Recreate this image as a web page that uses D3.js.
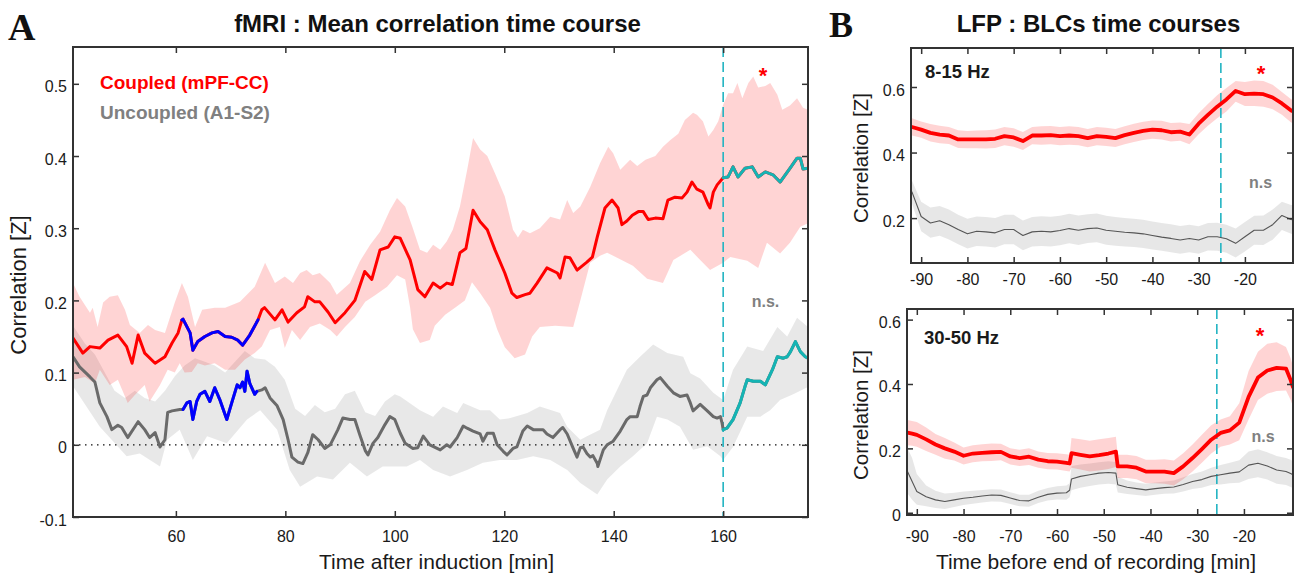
<!DOCTYPE html>
<html>
<head>
<meta charset="utf-8">
<style>
  body { margin: 0; background: #fff; }
  svg { display: block; }
  text { font-family: "Liberation Sans", Arial, Helvetica, sans-serif; }
  text.serif { font-family: "Liberation Serif", "Times New Roman", serif; }
</style>
</head>
<body>
<svg id="chart" width="1295" height="575"></svg>
<script src="https://cdn.jsdelivr.net/npm/d3@7"></script>
<script>
// ---------- Panel A: fMRI (time after induction, min) ----------
const coupledMean = [[41.2,.148],[43.0,.127],[44.3,.136],[46.1,.134],[47.6,.145],[49.4,.152],[50.1,.145],[51.0,.136],[52.0,.113],[53.1,.152],[54.3,.127],[56.2,.113],[58.0,.122],[59.3,.141],[60.4,.155],[61.1,.173],[61.3,.174],[62.6,.155],[63.1,.131],[64.0,.143],[65.3,.15],[66.6,.155],[67.7,.157],[69.0,.15],[70.2,.149],[71.3,.145],[72.2,.138],[73.5,.152],[75.0,.173],[75.7,.187],[76.2,.19],[78.1,.173],[79.4,.187],[80.5,.17],[82.1,.183],[83.5,.191],[84.1,.205],[85.4,.198],[86.3,.198],[87.8,.184],[89.1,.169],[90.9,.183],[92.7,.2],[94.5,.24],[95.8,.229],[97.3,.27],[98.8,.274],[100.0,.288],[101.0,.286],[102.8,.256],[104.2,.215],[105.5,.205],[107.0,.224],[108.3,.217],[109.5,.224],[110.5,.222],[111.9,.266],[113.0,.272],[114.3,.325],[115.6,.309],[116.9,.298],[118.3,.27],[120.1,.238],[121.4,.21],[122.3,.204],[123.8,.208],[124.7,.21],[126.0,.224],[127.8,.245],[129.7,.238],[130.2,.231],[131.1,.26],[132.0,.259],[133.3,.242],[135.1,.253],[136.1,.26],[137.0,.288],[138.4,.328],[139.7,.339],[140.8,.328],[141.5,.305],[142.4,.31],[143.4,.318],[144.5,.323],[145.4,.323],[146.3,.312],[147.6,.314],[149.0,.313],[149.9,.339],[151.2,.343],[152.5,.342],[153.4,.35],[154.3,.364],[155.2,.354],[156.3,.35],[157.3,.332],[157.6,.328],[158.2,.35],[158.9,.36],[160.0,.37],[160.9,.371],[161.8,.385],[162.7,.371],[164.0,.383],[165.3,.385],[166.4,.371],[167.7,.378],[169.1,.374],[170.4,.364],[172.2,.383],[173.5,.397],[174.1,.397],[174.6,.382],[175.5,.383]];
const coupledUpper = [[41.2,.224],[42.4,.205],[44.3,.183],[44.8,.19],[45.7,.163],[46.7,.197],[47.9,.205],[49.4,.207],[50.7,.187],[51.6,.166],[53.4,.155],[54.9,.166],[56.2,.159],[58.0,.155],[59.8,.197],[61.1,.224],[62.2,.205],[63.5,.163],[64.8,.187],[67.1,.19],[69.0,.19],[71.7,.198],[74.4,.219],[76.3,.252],[78.1,.224],[79.9,.233],[81.4,.224],[82.7,.238],[83.9,.242],[85.0,.235],[86.3,.238],[88.2,.224],[89.4,.208],[91.8,.224],[93.6,.254],[95.5,.277],[97.3,.295],[99.1,.325],[100.4,.342],[101.9,.33],[103.3,.3],[104.6,.27],[105.9,.266],[107.0,.277],[108.3,.27],[109.5,.282],[110.6,.298],[111.9,.33],[113.2,.38],[114.3,.425],[115.6,.409],[116.9,.4],[118.3,.376],[120.1,.344],[121.6,.298],[122.5,.287],[123.4,.298],[124.7,.293],[126.5,.3],[128.4,.316],[130.2,.312],[131.5,.339],[132.6,.321],[133.9,.33],[135.7,.357],[137.5,.39],[139.0,.413],[139.9,.404],[141.2,.381],[143.0,.395],[144.3,.386],[145.8,.395],[147.6,.4],[149.0,.413],[150.3,.422],[151.8,.431],[153.0,.45],[154.5,.46],[155.2,.457],[156.3,.448],[157.3,.427],[158.2,.436],[159.1,.448],[160.0,.471],[160.9,.487],[161.8,.487],[162.6,.501],[163.5,.48],[164.6,.501],[165.5,.51],[166.4,.495],[167.7,.497],[168.6,.501],[169.9,.485],[170.8,.464],[172.2,.47],[173.5,.48],[174.6,.467],[175.5,.464]];
const coupledLower = [[41.2,.09],[43.4,.094],[45.2,.085],[46.1,.104],[47.9,.083],[49.4,.09],[51.2,.058],[52.5,.069],[54.3,.083],[55.2,.06],[57.1,.083],[58.5,.104],[59.8,.1],[60.7,.113],[61.6,.1],[62.9,.101],[64.0,.113],[65.3,.11],[67.1,.113],[69.0,.104],[70.8,.104],[72.6,.118],[74.4,.127],[75.7,.136],[77.2,.159],[79.0,.163],[79.9,.134],[81.2,.159],[82.7,.145],[84.5,.163],[86.3,.168],[88.2,.159],[89.4,.15],[90.9,.163],[92.7,.177],[94.6,.198],[96.4,.207],[98.6,.219],[100.4,.235],[101.9,.229],[102.8,.19],[103.3,.16],[104.6,.141],[106.4,.145],[107.3,.165],[109.2,.18],[111.0,.19],[112.8,.2],[114.1,.225],[115.6,.21],[117.4,.19],[118.7,.16],[120.1,.135],[121.9,.12],[123.8,.125],[125.1,.15],[126.5,.163],[129.3,.165],[132.6,.163],[133.9,.2],[135.7,.252],[137.5,.262],[138.8,.266],[139.9,.262],[143.5,.248],[146.1,.23],[149.0,.224],[150.9,.256],[154.0,.27],[155.8,.256],[157.6,.242],[160.0,.252],[161.3,.26],[164.4,.255],[166.4,.245],[168.0,.28],[170.4,.265],[172.2,.28],[174.1,.302],[175.5,.307]];

const uncoupledMean = [[41.2,.122],[42.4,.108],[44.3,.094],[45.2,.087],[46.1,.058],[47.4,.039],[48.3,.021],[49.4,.027],[50.1,.024],[51.2,.01],[53.1,.032],[54.3,.021],[55.2,.01],[56.2,.017],[57.1,-.003],[58.0,.007],[58.5,.045],[59.3,.047],[60.7,.049],[61.3,.049],[62.0,.058],[62.6,.06],[63.1,.035],[63.8,.06],[64.4,.07],[65.3,.074],[66.2,.06],[67.1,.079],[68.0,.063],[69.3,.035],[70.2,.058],[71.2,.083],[71.7,.079],[72.2,.087],[72.6,.074],[73.0,.102],[73.5,.085],[74.4,.07],[74.8,.074],[75.7,.076],[76.3,.079],[77.2,.065],[78.5,.054],[79.6,.035],[80.5,.007],[81.2,-.017],[82.3,-.024],[83.2,-.026],[84.1,-.011],[85.0,.014],[86.0,.007],[87.2,-.005],[88.2,0],[89.6,.021],[90.5,.037],[91.8,.035],[92.7,.035],[93.6,.014],[94.6,-.008],[95.1,-.014],[96.0,.002],[96.9,.01],[98.2,.028],[99.1,.039],[100.0,.035],[101.0,.016],[101.9,.002],[103.3,-.005],[104.2,-.004],[105.2,.012],[106.4,0],[108.3,-.007],[109.5,0],[110.1,-.003],[111.4,.01],[112.5,.026],[113.2,.023],[114.3,.019],[115.6,.015],[116.1,.005],[116.9,.016],[118.0,.016],[118.7,0],[119.8,-.009],[120.5,-.014],[121.6,-.005],[122.3,-.003],[123.4,.019],[124.2,.026],[125.3,.021],[127.1,.021],[127.8,.015],[128.9,.01],[130.2,.021],[130.7,.024],[131.5,.015],[132.6,-.005],[133.3,-.017],[133.9,-.004],[134.4,-.003],[135.1,-.012],[135.7,-.017],[136.2,-.015],[137.0,-.026],[137.1,-.03],[138.1,-.007],[138.8,0],[139.9,.005],[141.2,.019],[142.4,.035],[143.0,.039],[144.3,.039],[144.8,.053],[145.4,.067],[146.1,.069],[146.7,.079],[147.9,.09],[148.5,.093],[149.8,.081],[150.9,.072],[152.1,.067],[153.4,.069],[154.0,.058],[154.5,.047],[155.8,.056],[157.1,.047],[158.2,.039],[158.9,.037],[159.5,.039],[159.8,.03],[160.0,.021],[160.7,.023],[161.8,.035],[163.1,.058],[164.0,.081],[164.4,.09],[165.5,.088],[166.8,.088],[167.7,.083],[169.0,.104],[169.9,.122],[171.0,.12],[171.7,.122],[172.3,.129],[173.2,.143],[174.1,.129],[175.0,.122],[175.5,.12]];
const uncoupledUpper = [[41.2,.165],[43.4,.14],[45.2,.125],[47.0,.1],[48.8,.075],[50.7,.065],[52.5,.075],[54.3,.065],[56.2,.06],[58.0,.075],[59.8,.095],[61.6,.11],[63.5,.12],[65.3,.115],[67.1,.11],[69.0,.1],[70.8,.115],[72.6,.13],[74.4,.12],[76.3,.118],[78.1,.108],[79.9,.09],[81.8,.05],[83.6,.04],[85.4,.055],[87.2,.045],[89.1,.05],[90.9,.07],[92.7,.075],[94.6,.045],[96.4,.04],[98.2,.06],[100.0,.07],[101.0,.067],[104.6,.048],[107.0,.039],[108.8,.053],[111.4,.044],[112.5,.058],[115.6,.048],[117.4,.048],[119.2,.035],[121.1,.037],[124.2,.044],[126.5,.053],[130.2,.044],[131.5,.025],[133.9,.007],[135.1,.012],[137.5,.021],[138.8,.048],[140.6,.076],[142.4,.104],[144.8,.122],[147.2,.139],[149.8,.127],[152.7,.122],[154.0,.099],[155.8,.092],[158.2,.072],[160.0,.062],[161.8,.104],[164.4,.136],[167.3,.13],[169.9,.163],[171.7,.15],[173.5,.176],[175.5,.163]];
const uncoupledLower = [[41.2,.081],[46.1,.025],[51.0,-.016],[53.4,-.012],[57.1,-.03],[58.4,.007],[60.7,.021],[63.1,-.021],[65.7,.012],[69.3,.002],[73.0,.035],[75.4,.048],[78.5,.021],[80.8,-.035],[82.7,-.058],[85.8,-.044],[88.7,-.048],[91.8,-.025],[94.9,-.044],[97.8,-.03],[101.0,-.03],[102.2,-.03],[104.6,-.021],[107.0,-.035],[110.1,-.044],[113.2,-.035],[116.1,-.025],[119.2,-.021],[122.3,-.021],[125.3,-.016],[128.4,-.021],[131.5,-.035],[133.9,-.053],[137.0,-.069],[138.8,-.048],[141.2,-.03],[143.5,-.016],[146.1,.002],[147.9,.039],[149.8,.035],[152.1,.025],[154.5,-.007],[157.1,-.002],[159.5,-.016],[160.0,-.021],[161.8,-.003],[164.4,.039],[166.8,.039],[168.6,.048],[170.4,.062],[172.8,.07],[175.5,.08]];

const xTicksA = [60, 80, 100, 120, 140, 160];
const yTicksA = [-0.1, 0, 0.1, 0.2, 0.3, 0.4, 0.5];
const blueSpanCoupled = [61.1, 75.0];
const blueSpanUncoupled = [61.3, 74.8];
const cyanSpan = [160, 175.5];
const markerA = 160;

// ---------- Panel B: LFP (time before end of recording, min) ----------
const timeB1 = [-92,-90,-88,-86,-84,-82,-80,-78,-76,-74,-72,-70,-68,-66,-64,-62,-60,-58,-56,-54,-52,-50,-48,-46,-44,-42,-40,-38,-36,-34,-32,-30,-28,-26,-24,-22,-20,-18,-16,-14,-12,-10,-9.5];
const alphaCoupled = [.478,.47,.46,.455,.452,.44,.44,.44,.44,.442,.45,.446,.435,.452,.452,.453,.45,.452,.45,.444,.45,.448,.444,.453,.46,.466,.47,.468,.462,.464,.455,.488,.515,.54,.562,.588,.578,.58,.578,.568,.55,.528,.525];
const alphaCoupledUp = [.505,.495,.487,.482,.478,.468,.466,.467,.468,.47,.478,.474,.463,.478,.48,.481,.478,.48,.478,.472,.478,.476,.472,.48,.488,.494,.498,.497,.49,.492,.487,.52,.548,.575,.597,.618,.615,.62,.618,.607,.585,.563,.56];
const alphaCoupledLo = [.452,.445,.434,.428,.426,.414,.413,.413,.412,.414,.422,.418,.408,.425,.424,.425,.422,.424,.422,.416,.422,.42,.417,.425,.432,.438,.442,.44,.434,.436,.425,.456,.482,.505,.525,.555,.542,.542,.54,.532,.515,.492,.49];
const alphaUncoupled = [.28,.205,.185,.192,.18,.165,.152,.16,.158,.155,.165,.165,.147,.158,.16,.158,.162,.168,.163,.168,.17,.163,.16,.157,.155,.152,.147,.142,.138,.133,.138,.133,.143,.143,.137,.123,.143,.163,.163,.18,.208,.196,.194];
const alphaUncoupledUp = [.315,.25,.232,.237,.226,.21,.198,.205,.203,.2,.21,.21,.193,.203,.206,.204,.207,.213,.208,.212,.214,.207,.203,.2,.198,.195,.19,.185,.181,.176,.18,.175,.185,.186,.18,.168,.188,.207,.208,.226,.25,.24,.238];
const alphaUncoupledLo = [.245,.16,.14,.146,.135,.12,.107,.115,.113,.11,.12,.12,.102,.113,.115,.113,.117,.123,.118,.124,.126,.119,.116,.113,.112,.109,.104,.1,.096,.091,.096,.091,.101,.1,.094,.08,.098,.119,.118,.134,.164,.152,.15];

const timeB2 = [-92,-91,-90,-88,-86,-84,-82,-80,-78,-76,-74,-72,-70,-68,-66,-64,-62,-60,-58,-57.3,-56.9,-55,-53,-51,-49,-47.4,-47,-45,-43,-41,-39,-37,-35,-33,-31,-29,-27,-25,-23,-21,-19,-17,-15,-13,-11,-10,-9.5];
const gammaCoupled = [.249,.246,.242,.228,.212,.2,.19,.177,.184,.186,.188,.189,.175,.17,.174,.165,.16,.159,.155,.153,.185,.18,.175,.179,.184,.19,.144,.144,.14,.128,.128,.128,.123,.144,.17,.198,.227,.248,.256,.28,.36,.42,.442,.45,.448,.412,.39];
const gammaCoupledUp = [.288,.285,.282,.265,.245,.232,.218,.203,.21,.213,.215,.214,.2,.196,.2,.19,.186,.185,.182,.18,.232,.228,.224,.228,.232,.236,.18,.18,.176,.165,.165,.166,.162,.185,.212,.242,.272,.29,.3,.34,.44,.5,.525,.53,.515,.48,.455];
const gammaCoupledLo = [.21,.208,.205,.192,.18,.168,.162,.15,.157,.16,.161,.163,.15,.145,.148,.14,.135,.134,.13,.128,.14,.134,.128,.131,.136,.142,.108,.108,.104,.092,.092,.09,.085,.104,.128,.155,.184,.205,.212,.225,.29,.35,.37,.378,.38,.35,.33];
const gammaUncoupled = [.128,.097,.066,.05,.04,.035,.04,.045,.048,.052,.055,.054,.046,.038,.037,.048,.057,.061,.062,.07,.105,.113,.118,.123,.125,.123,.087,.079,.075,.071,.075,.078,.08,.088,.097,.103,.113,.118,.123,.127,.148,.154,.145,.133,.128,.122,.118];
const gammaUncoupledUp = [.2,.17,.12,.085,.068,.06,.062,.066,.068,.071,.073,.072,.064,.056,.056,.068,.077,.082,.085,.092,.145,.15,.153,.157,.16,.158,.112,.1,.094,.09,.094,.097,.1,.11,.12,.128,.14,.148,.155,.163,.19,.197,.188,.176,.17,.165,.16];
const gammaUncoupledLo = [.06,.04,.025,.02,.015,.012,.018,.024,.028,.032,.035,.034,.027,.02,.019,.03,.038,.041,.04,.048,.07,.078,.083,.088,.09,.088,.063,.058,.055,.052,.056,.059,.06,.066,.074,.078,.086,.088,.092,.093,.105,.11,.103,.09,.086,.08,.076];

const xTicksB = [-90, -80, -70, -60, -50, -40, -30, -20];
const yTicksB1 = [0.2, 0.4, 0.6];
const yTicksB2 = [0, 0.2, 0.4, 0.6];
const markerB1 = -25.2;
const markerB2 = -25.8;

// ---------- styles ----------
const RED = "#ff0000", BLUE = "#0000ff", CYAN = "#14b4b4", GRAY = "#6a6a6a";
const DASH = "#22b4c2", AXIS = "#333", TXT = "#1a1a1a";

const svg = d3.select("#chart");
svg.append("rect").attr("width", 1295).attr("height", 575).attr("fill", "#fff");

const fmtY = d => d === 0 ? "0" : d3.format(".1f")(d).replace("\u2212", "-");
const fmtX = d => String(d);

function zip(t, v) { return t.map((d, i) => [d, v[i]]); }

function bandPath(upper, lower, x, y) {
  const pts = upper.map(d => [x(d[0]), y(d[1])])
    .concat(lower.slice().reverse().map(d => [x(d[0]), y(d[1])]));
  return d3.line()(pts) + "Z";
}

function drawLine(g, pts, x, y, color, w) {
  g.append("path")
    .attr("d", d3.line().x(d => x(d[0])).y(d => y(d[1]))(pts))
    .attr("fill", "none").attr("stroke", color).attr("stroke-width", w)
    .attr("stroke-linejoin", "round").attr("stroke-linecap", "round");
}

function segment(pts, span) {
  return pts.filter(d => d[0] >= span[0] - 1e-9 && d[0] <= span[1] + 1e-9);
}

function panel(id, x, y, xTicks, yTicks, xPad) {
  const [x0, x1] = x.range(), [y0, y1] = y.range();
  const g = svg.append("g");
  g.append("clipPath").attr("id", id).append("rect")
    .attr("x", x0).attr("y", y1).attr("width", x1 - x0).attr("height", y0 - y1);
  const plot = g.append("g").attr("clip-path", `url(#${id})`);

  const tidy = s => { s.select(".domain").remove();
    s.selectAll(".tick line").attr("stroke", AXIS).attr("stroke-width", 1.5);
    s.selectAll("text").attr("fill", TXT).attr("font-size", 16); };

  const ax = g.append("g");
  ax.append("g").attr("transform", `translate(0,${y0})`)
    .call(d3.axisBottom(x).tickValues(xTicks).tickSize(-6).tickPadding(xPad).tickFormat(fmtX)).call(tidy);
  ax.append("g").attr("transform", `translate(0,${y1})`)
    .call(d3.axisTop(x).tickValues(xTicks).tickSize(-6).tickFormat("")).call(tidy);
  ax.append("g").attr("transform", `translate(${x0},0)`)
    .call(d3.axisLeft(y).tickValues(yTicks).tickSize(-6).tickPadding(6).tickFormat(fmtY)).call(tidy)
    .selectAll("text").attr("dy", "0.5em");
  ax.append("g").attr("transform", `translate(${x1},0)`)
    .call(d3.axisRight(y).tickValues(yTicks).tickSize(-6).tickFormat("")).call(tidy);
  ax.selectAll("text").attr("font-family", null);
  return { g, plot, ax, box: () => g.append("rect").attr("x", x0).attr("y", y1)
    .attr("width", x1 - x0).attr("height", y0 - y1)
    .attr("fill", "none").attr("stroke", AXIS).attr("stroke-width", 2) };
}

function vDash(plot, x, y, t) {
  plot.append("line").attr("x1", x(t)).attr("x2", x(t))
    .attr("y1", y.range()[1]).attr("y2", y.range()[0])
    .attr("stroke", DASH).attr("stroke-width", 1.6).attr("stroke-dasharray", "10,5");
}

function text(g, s, x, y, o = {}) {
  const t = g.append("text").attr("x", x).attr("y", y).text(s)
    .attr("font-size", o.size || 16).attr("fill", o.fill || TXT)
    .attr("text-anchor", o.anchor || "start");
  if (o.bold) t.attr("font-weight", "bold");
  if (o.serif) t.attr("class", "serif");
  if (o.rotate) t.attr("transform", `rotate(-90,${x},${y})`);
  return t;
}

// ---------- Panel A ----------
const xA = d3.scaleLinear().domain([41.2, 175.5]).range([73, 808]);
const yA = d3.scaleLinear().domain([-0.1, 0.551]).range([517, 47]);
const A = panel("clipA", xA, yA, xTicksA, yTicksA, 13.6);

A.plot.append("path").attr("d", bandPath(uncoupledUpper, uncoupledLower, xA, yA))
  .attr("fill", "#000").attr("fill-opacity", 0.09);
A.plot.append("path").attr("d", bandPath(coupledUpper, coupledLower, xA, yA))
  .attr("fill", RED).attr("fill-opacity", 0.17);
A.plot.append("line").attr("x1", xA.range()[0]).attr("x2", xA.range()[1])
  .attr("y1", yA(0)).attr("y2", yA(0))
  .attr("stroke", "#111").attr("stroke-width", 1.3).attr("stroke-dasharray", "1.5,4.5");
vDash(A.plot, xA, yA, markerA);

drawLine(A.plot, uncoupledMean, xA, yA, GRAY, 3);
drawLine(A.plot, segment(uncoupledMean, blueSpanUncoupled), xA, yA, BLUE, 3);
drawLine(A.plot, segment(uncoupledMean, cyanSpan), xA, yA, CYAN, 3);
drawLine(A.plot, coupledMean, xA, yA, RED, 3);
drawLine(A.plot, segment(coupledMean, blueSpanCoupled), xA, yA, BLUE, 3);
drawLine(A.plot, segment(coupledMean, cyanSpan), xA, yA, CYAN, 3);
A.box();

text(svg, "A", 8, 40, { size: 38, bold: true, serif: true, fill: "#111" });
text(svg, "fMRI : Mean correlation time course", 437.5, 32, { size: 24, bold: true, anchor: "middle", fill: "#111" });
text(svg, "Coupled (mPF-CC)", 100, 89, { size: 19, bold: true, fill: RED });
text(svg, "Uncoupled (A1-S2)", 100, 119, { size: 19, bold: true, fill: "#808080" });
text(svg, "*", 763, 83, { size: 22, bold: true, anchor: "middle", fill: RED });
text(svg, "n.s.", 765.5, 307, { size: 16, bold: true, anchor: "middle", fill: "#808080" });
text(svg, "Correlation [Z]", 26, 285, { size: 22, anchor: "middle", rotate: true });
text(svg, "Time after induction [min]", 436.5, 569, { size: 21, anchor: "middle" });

// ---------- Panel B ----------
const xB1 = d3.scaleLinear().domain([-92.2, -9.6]).range([911, 1293]);
const yB1 = d3.scaleLinear().domain([0.063, 0.719]).range([263, 48]);
const B1 = panel("clipB1", xB1, yB1, xTicksB, yTicksB1, 10.6);

const area = (x, y) => d3.area().x(d => x(d[0])).y0(d => y(d[1])).y1(d => y(d[2]));
const tri = (t, lo, up) => t.map((d, i) => [d, lo[i], up[i]]);

B1.plot.append("path").attr("d", area(xB1, yB1)(tri(timeB1, alphaUncoupledLo, alphaUncoupledUp)))
  .attr("fill", "#000").attr("fill-opacity", 0.095);
B1.plot.append("path").attr("d", area(xB1, yB1)(tri(timeB1, alphaCoupledLo, alphaCoupledUp)))
  .attr("fill", RED).attr("fill-opacity", 0.17);
vDash(B1.plot, xB1, yB1, markerB1);
drawLine(B1.plot, zip(timeB1, alphaUncoupled), xB1, yB1, "#555", 1.1);
drawLine(B1.plot, zip(timeB1, alphaCoupled), xB1, yB1, RED, 3.8);
B1.box();

const xB2 = d3.scaleLinear().domain([-92.1, -9.5]).range([907, 1293]);
const yB2 = d3.scaleLinear().domain([-0.007, 0.633]).range([515, 309]);
const B2 = panel("clipB2", xB2, yB2, xTicksB, yTicksB2, 15.6);

B2.plot.append("path").attr("d", area(xB2, yB2)(tri(timeB2, gammaUncoupledLo, gammaUncoupledUp)))
  .attr("fill", "#000").attr("fill-opacity", 0.095);
B2.plot.append("path").attr("d", area(xB2, yB2)(tri(timeB2, gammaCoupledLo, gammaCoupledUp)))
  .attr("fill", RED).attr("fill-opacity", 0.17);
vDash(B2.plot, xB2, yB2, markerB2);
drawLine(B2.plot, zip(timeB2, gammaUncoupled), xB2, yB2, "#555", 1.1);
drawLine(B2.plot, zip(timeB2, gammaCoupled), xB2, yB2, RED, 3.8);
B2.box();

text(svg, "B", 829, 37, { size: 36, bold: true, serif: true, fill: "#111" });
text(svg, "LFP : BLCs time courses", 1098.5, 32, { size: 24, bold: true, anchor: "middle", fill: "#111" });
text(svg, "8-15 Hz", 925, 78, { size: 18.5, bold: true });
text(svg, "30-50 Hz", 924, 344, { size: 18.5, bold: true });
text(svg, "*", 1261, 81, { size: 22, bold: true, anchor: "middle", fill: RED });
text(svg, "*", 1260, 343, { size: 22, bold: true, anchor: "middle", fill: RED });
text(svg, "n.s", 1260.5, 188, { size: 16, bold: true, anchor: "middle", fill: "#808080" });
text(svg, "n.s", 1263, 442, { size: 16, bold: true, anchor: "middle", fill: "#808080" });
text(svg, "Correlation [Z]", 868, 158, { size: 20.5, anchor: "middle", rotate: true });
text(svg, "Correlation [Z]", 868, 415, { size: 20.5, anchor: "middle", rotate: true });
text(svg, "Time before end of recording [min]", 1096, 569, { size: 21, anchor: "middle" });
</script>
</body>
</html>
